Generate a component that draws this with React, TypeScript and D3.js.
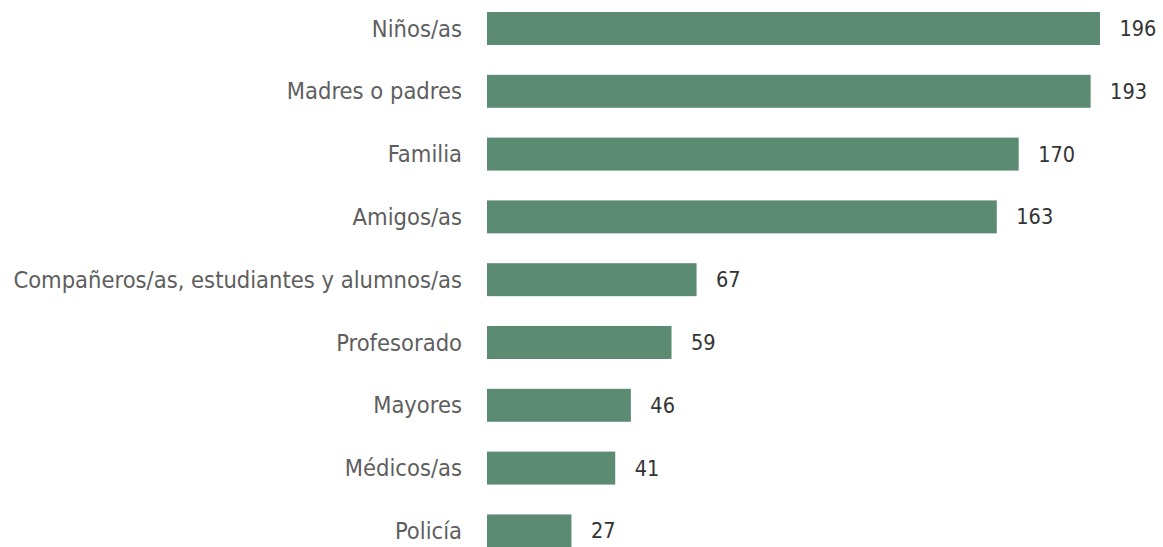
import React from "react";
import * as d3 from "d3";

const categories = [
  "Niños/as",
  "Madres o padres",
  "Familia",
  "Amigos/as",
  "Compañeros/as, estudiantes y alumnos/as",
  "Profesorado",
  "Mayores",
  "Médicos/as",
  "Policía",
];
const values = [196, 193, 170, 163, 67, 59, 46, 41, 27];

const W = 1163;
const H = 547;

export default function App() {
  const x = d3.scaleLinear().domain([0, 196]).range([487, 1100]);
  const y = d3
    .scaleBand<string>()
    .domain(categories)
    .range([-2.9, 562.3])
    .paddingInner(0.475)
    .paddingOuter(0.2375);
  const bw = y.bandwidth();
  const font = "'DejaVu Sans Condensed', 'Liberation Sans Narrow', sans-serif";
  return (
    <svg
      width={W}
      height={H}
      style={{ position: "absolute", left: 0, top: 0, background: "#fff" }}
    >
      {categories.map((c, i) => {
        const yc = (y(c) ?? 0) + bw / 2;
        return (
          <g key={c}>
            <rect
              x={x(0)}
              y={y(c)}
              width={x(values[i]) - x(0)}
              height={bw}
              fill="#5b8b73"
            />
            <text
              x={462}
              y={yc}
              textAnchor="end"
              dominantBaseline="central"
              fontFamily={font}
              fontSize={23.5}
              fill="#5e5e5e"
            >
              {c}
            </text>
            <text
              x={x(values[i]) + 19.5}
              y={yc}
              dominantBaseline="central"
              fontFamily={font}
              fontSize={21.5}
              fill="#333"
            >
              {values[i]}
            </text>
          </g>
        );
      })}
    </svg>
  );
}
